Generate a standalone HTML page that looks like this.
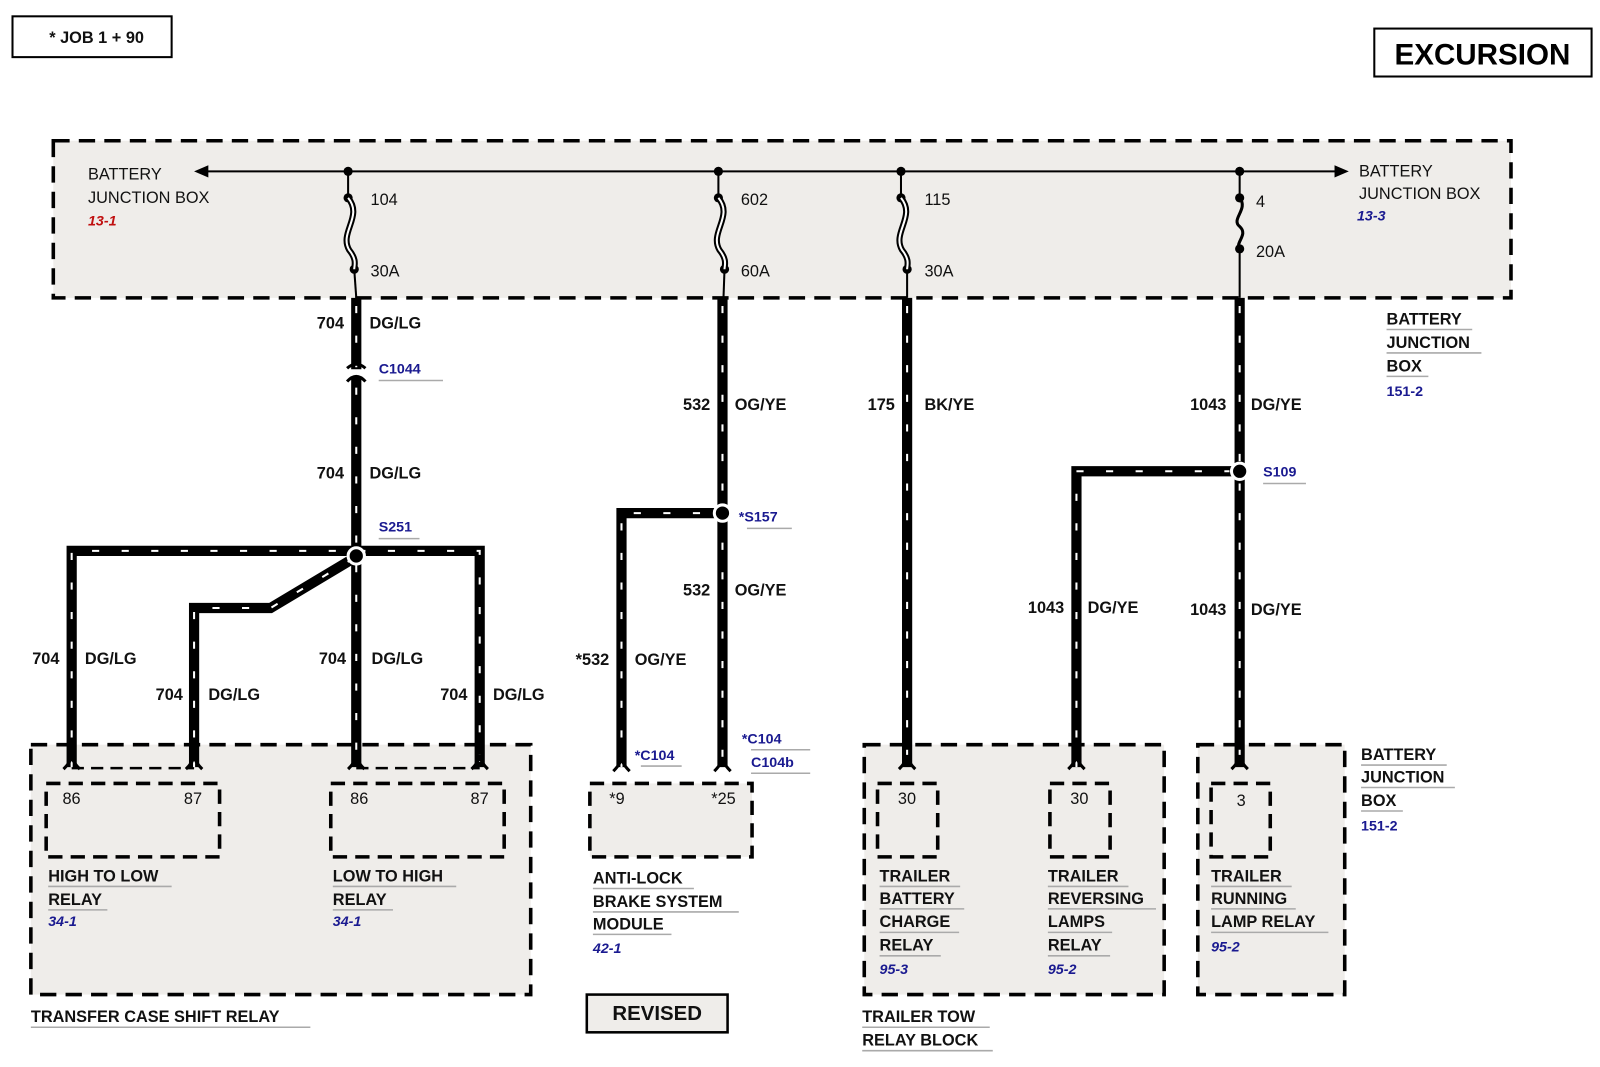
<!DOCTYPE html>
<html><head><meta charset="utf-8"><style>
html,body{margin:0;padding:0;background:#fff;}
svg{display:block;}
text{font-family:"Liberation Sans",Arial,sans-serif;}
.b{font-weight:bold;font-size:16px;fill:#111;}
.n{font-size:16px;fill:#111;}
.bl{font-weight:bold;font-size:14px;fill:#1a1a90;}
.it{font-weight:bold;font-style:italic;font-size:14px;fill:#1a1a90;}
.w1{fill:none;stroke:#000;stroke-width:10;stroke-linejoin:miter;}
.w2{fill:none;stroke:#fff;stroke-width:2;stroke-dasharray:7 22;}
.box{fill:#efedea;stroke:#000;stroke-width:3.5;stroke-dasharray:16 9;}
.ib{fill:none;stroke:#000;stroke-width:3.5;stroke-dasharray:14 8;}
.ul{stroke:#aaa;stroke-width:1.5;}
</style></head><body>
<svg width="1600" height="1067" viewBox="0 0 1568 1046" xmlns="http://www.w3.org/2000/svg">
<rect x="0" y="0" width="1568" height="1046" fill="#fff"/>
<!-- top labels -->
<rect x="12" y="16" width="156" height="40" fill="#fff" stroke="#000" stroke-width="2"/>
<text x="48" y="42" class="b">* JOB 1 + 90</text>
<rect x="1347" y="28" width="213" height="47" fill="#fff" stroke="#000" stroke-width="2"/>
<text x="1453" y="63" text-anchor="middle" style="font-weight:bold;font-size:29px;fill:#000">EXCURSION</text>

<!-- battery junction box -->
<rect x="52" y="138" width="1429" height="154" class="box"/>
<line x1="200" y1="168" x2="1310" y2="168" stroke="#000" stroke-width="2"/>
<polygon points="190,168 204,162 204,174" fill="#000"/>
<polygon points="1322,168 1308,162 1308,174" fill="#000"/>
<text x="86" y="176" class="n">BATTERY</text>
<text x="86" y="199" class="n">JUNCTION BOX</text>
<text x="86" y="221" class="it" style="fill:#c01010">13-1</text>
<text x="1332" y="173" class="n">BATTERY</text>
<text x="1332" y="195" class="n">JUNCTION BOX</text>
<text x="1330" y="216" class="it">13-3</text>

<!-- fuses -->
<g fill="#000">
<circle cx="341" cy="168" r="4.5"/><circle cx="341" cy="194" r="4.5"/><circle cx="347" cy="264" r="4.5"/>
<circle cx="704" cy="168" r="4.5"/><circle cx="704" cy="194" r="4.5"/><circle cx="710" cy="264" r="4.5"/>
<circle cx="883" cy="168" r="4.5"/><circle cx="883" cy="194" r="4.5"/><circle cx="889" cy="264" r="4.5"/>
<circle cx="1215" cy="168" r="4.5"/><circle cx="1215" cy="194" r="4.5"/><circle cx="1215" cy="244" r="4.5"/>
</g>
<g fill="none" stroke="#000" stroke-width="2">
<line x1="341" y1="168" x2="341" y2="194"/><line x1="704" y1="168" x2="704" y2="194"/>
<line x1="883" y1="168" x2="883" y2="194"/><line x1="1215" y1="168" x2="1215" y2="194"/>
<line x1="347" y1="264" x2="349" y2="292"/><line x1="710" y1="264" x2="709" y2="292"/>
<line x1="889" y1="264" x2="889" y2="292"/><line x1="1215" y1="244" x2="1215" y2="292"/>
</g>
<g fill="none" stroke="#000" stroke-width="6">
<path d="M341,194 C356,212 332,228 342,245 C350,255 347,260 347,264"/>
<path d="M704,194 C719,212 695,228 705,245 C713,255 710,260 710,264"/>
<path d="M883,194 C898,212 874,228 884,245 C892,255 889,260 889,264"/>
<path d="M1215,194 C1224,205 1206,215 1215,222 C1224,230 1210,238 1215,244" stroke-width="3"/>
</g>
<g fill="none" stroke="#fff" stroke-width="2">
<path d="M341,194 C356,212 332,228 342,245 C350,255 347,260 347,264"/>
<path d="M704,194 C719,212 695,228 705,245 C713,255 710,260 710,264"/>
<path d="M883,194 C898,212 874,228 884,245 C892,255 889,260 889,264"/>
</g>
<text x="363" y="201" class="n">104</text><text x="363" y="271" class="n">30A</text>
<text x="726" y="201" class="n">602</text><text x="726" y="271" class="n">60A</text>
<text x="906" y="201" class="n">115</text><text x="906" y="271" class="n">30A</text>
<text x="1231" y="203" class="n">4</text><text x="1231" y="252" class="n">20A</text>

<!-- module boxes -->
<rect x="30" y="730" width="490" height="245" class="box"/>
<rect x="45" y="768" width="170" height="72" class="ib"/>
<rect x="324" y="768" width="170" height="72" class="ib"/>
<rect x="578" y="768" width="159" height="72" class="ib" style="fill:#efedea"/>
<rect x="847" y="730" width="294" height="245" class="box"/>
<rect x="860" y="768" width="59" height="72" class="ib"/>
<rect x="1029" y="768" width="59" height="72" class="ib"/>
<rect x="1174" y="730" width="144" height="245" class="box"/>
<rect x="1187" y="768" width="58" height="72" class="ib"/>
<line x1="70" y1="753" x2="190" y2="753" stroke="#000" stroke-width="2.5" stroke-dasharray="12 7"/>
<line x1="349" y1="753" x2="470" y2="753" stroke="#000" stroke-width="2.5" stroke-dasharray="12 7"/>

<!-- wires -->
<g>
<path class="w1" d="M349,292 V362 M349,370 V752"/>
<path class="w1" d="M70,752 V540 H470 V752"/>
<path class="w1" d="M190,752 V596 H265 L342,550"/>
<path class="w1" d="M708,292 V752"/>
<path class="w1" d="M609,752 V503 H708"/>
<path class="w1" d="M889,292 V752"/>
<path class="w1" d="M1215,292 V752"/>
<path class="w1" d="M1055,752 V462 H1215"/>
</g>
<g>
<path class="w2" d="M349,300 V360 M349,380 V752"/>
<path class="w2" d="M70,752 V540 H470 V752"/>
<path class="w2" d="M190,752 V596 H265 L342,550"/>
<path class="w2" d="M708,300 V752"/>
<path class="w2" d="M609,752 V503 H700"/>
<path class="w2" d="M889,300 V752"/>
<path class="w2" d="M1215,300 V752"/>
<path class="w2" d="M1055,752 V462 H1205"/>
</g>
<!-- C1044 connector -->
<path d="M340,361 Q349,353 358,361" fill="none" stroke="#000" stroke-width="3"/>
<path d="M340,374 Q349,364 358,374" fill="none" stroke="#000" stroke-width="3"/>
<!-- pin forks -->
<g fill="none" stroke="#000" stroke-width="3">
<path d="M62,754 Q70,746 70,740 Q70,746 78,754"/>
<path d="M182,754 Q190,746 190,740 Q190,746 198,754"/>
<path d="M341,754 Q349,746 349,740 Q349,746 357,754"/>
<path d="M462,754 Q470,746 470,740 Q470,746 478,754"/>
<path d="M601,756 Q609,748 609,742 Q609,748 617,756"/>
<path d="M700,756 Q708,748 708,742 Q708,748 716,756"/>
<path d="M881,754 Q889,746 889,740 Q889,746 897,754"/>
<path d="M1047,754 Q1055,746 1055,740 Q1055,746 1063,754"/>
<path d="M1207,754 Q1215,746 1215,740 Q1215,746 1223,754"/>
</g>
<!-- splices -->
<g stroke="#fff" stroke-width="3" fill="#000">
<circle cx="349" cy="545" r="8"/>
<circle cx="708" cy="503" r="8"/>
<circle cx="1215" cy="462" r="8"/>
</g>

<!-- wire labels -->
<g class="b">
<text x="337" y="322" text-anchor="end">704</text><text x="362" y="322">DG/LG</text>
<text x="337" y="469" text-anchor="end">704</text><text x="362" y="469">DG/LG</text>
<text x="58" y="651" text-anchor="end">704</text><text x="83" y="651">DG/LG</text>
<text x="179" y="686" text-anchor="end">704</text><text x="204" y="686">DG/LG</text>
<text x="339" y="651" text-anchor="end">704</text><text x="364" y="651">DG/LG</text>
<text x="458" y="686" text-anchor="end">704</text><text x="483" y="686">DG/LG</text>
<text x="696" y="402" text-anchor="end">532</text><text x="720" y="402">OG/YE</text>
<text x="696" y="584" text-anchor="end">532</text><text x="720" y="584">OG/YE</text>
<text x="597" y="652" text-anchor="end">*532</text><text x="622" y="652">OG/YE</text>
<text x="877" y="402" text-anchor="end">175</text><text x="906" y="402">BK/YE</text>
<text x="1202" y="402" text-anchor="end">1043</text><text x="1226" y="402">DG/YE</text>
<text x="1043" y="601" text-anchor="end">1043</text><text x="1066" y="601">DG/YE</text>
<text x="1202" y="603" text-anchor="end">1043</text><text x="1226" y="603">DG/YE</text>
</g>
<g class="bl">
<text x="371" y="366">C1044</text><text x="371" y="521">S251</text>
<text x="724" y="511">*S157</text><text x="1238" y="467">S109</text>
<text x="622" y="745">*C104</text>
<text x="727" y="729">*C104</text><text x="736" y="752">C104b</text>
</g>
<g class="ul">
<line x1="371" y1="373" x2="434" y2="373"/><line x1="371" y1="528" x2="411" y2="528"/>
<line x1="732" y1="518" x2="776" y2="518"/><line x1="1238" y1="474" x2="1280" y2="474"/>
<line x1="628" y1="751" x2="668" y2="751"/><line x1="736" y1="735" x2="794" y2="735"/>
<line x1="736" y1="758" x2="794" y2="758"/>
</g>

<!-- pin numbers -->
<g class="n">
<text x="61" y="788">86</text><text x="180" y="788">87</text>
<text x="343" y="788">86</text><text x="461" y="788">87</text>
<text x="597" y="788">*9</text><text x="697" y="788">*25</text>
<text x="880" y="788">30</text><text x="1049" y="788">30</text><text x="1212" y="790">3</text>
</g>

<!-- component labels -->
<g class="b">
<text x="47" y="864">HIGH TO LOW</text><text x="47" y="887">RELAY</text>
<text x="326" y="864">LOW TO HIGH</text><text x="326" y="887">RELAY</text>
<text x="581" y="866">ANTI-LOCK</text><text x="581" y="889">BRAKE SYSTEM</text><text x="581" y="911">MODULE</text>
<text x="862" y="864">TRAILER</text><text x="862" y="886">BATTERY</text><text x="862" y="909">CHARGE</text><text x="862" y="932">RELAY</text>
<text x="1027" y="864">TRAILER</text><text x="1027" y="886">REVERSING</text><text x="1027" y="909">LAMPS</text><text x="1027" y="932">RELAY</text>
<text x="1187" y="864">TRAILER</text><text x="1187" y="886">RUNNING</text><text x="1187" y="909">LAMP RELAY</text>
<text x="1359" y="318">BATTERY</text><text x="1359" y="341">JUNCTION</text><text x="1359" y="364">BOX</text>
<text x="1334" y="745">BATTERY</text><text x="1334" y="767">JUNCTION</text><text x="1334" y="790">BOX</text>
<text x="30" y="1002">TRANSFER CASE SHIFT RELAY</text>
<text x="845" y="1002">TRAILER TOW</text><text x="845" y="1025">RELAY BLOCK</text>
</g>
<g class="it">
<text x="47" y="908">34-1</text><text x="326" y="908">34-1</text><text x="581" y="934">42-1</text>
<text x="862" y="955">95-3</text><text x="1027" y="955">95-2</text><text x="1187" y="933">95-2</text>
</g>
<g class="bl"><text x="1359" y="388">151-2</text><text x="1334" y="814">151-2</text></g>
<g class="ul">
<line x1="47" y1="869" x2="168" y2="869"/><line x1="47" y1="892" x2="105" y2="892"/>
<line x1="326" y1="869" x2="447" y2="869"/><line x1="326" y1="892" x2="385" y2="892"/>
<line x1="581" y1="871" x2="680" y2="871"/><line x1="581" y1="894" x2="724" y2="894"/><line x1="581" y1="916" x2="658" y2="916"/>
<line x1="862" y1="869" x2="941" y2="869"/><line x1="862" y1="891" x2="945" y2="891"/><line x1="862" y1="914" x2="940" y2="914"/><line x1="862" y1="937" x2="922" y2="937"/>
<line x1="1027" y1="869" x2="1106" y2="869"/><line x1="1027" y1="891" x2="1133" y2="891"/><line x1="1027" y1="914" x2="1090" y2="914"/><line x1="1027" y1="937" x2="1088" y2="937"/>
<line x1="1187" y1="869" x2="1266" y2="869"/><line x1="1187" y1="891" x2="1270" y2="891"/><line x1="1187" y1="914" x2="1302" y2="914"/>
<line x1="1359" y1="323" x2="1443" y2="323"/><line x1="1359" y1="346" x2="1452" y2="346"/><line x1="1359" y1="369" x2="1400" y2="369"/>
<line x1="1334" y1="750" x2="1418" y2="750"/><line x1="1334" y1="772" x2="1426" y2="772"/><line x1="1334" y1="795" x2="1375" y2="795"/>
<line x1="30" y1="1007" x2="304" y2="1007"/>
<line x1="845" y1="1007" x2="970" y2="1007"/><line x1="845" y1="1030" x2="973" y2="1030"/>
</g>

<!-- revised -->
<rect x="575" y="975" width="138" height="37" fill="#efedea" stroke="#000" stroke-width="2.5"/>
<text x="644" y="1000" text-anchor="middle" style="font-weight:bold;font-size:20px;fill:#111">REVISED</text>
</svg>
</body></html>
